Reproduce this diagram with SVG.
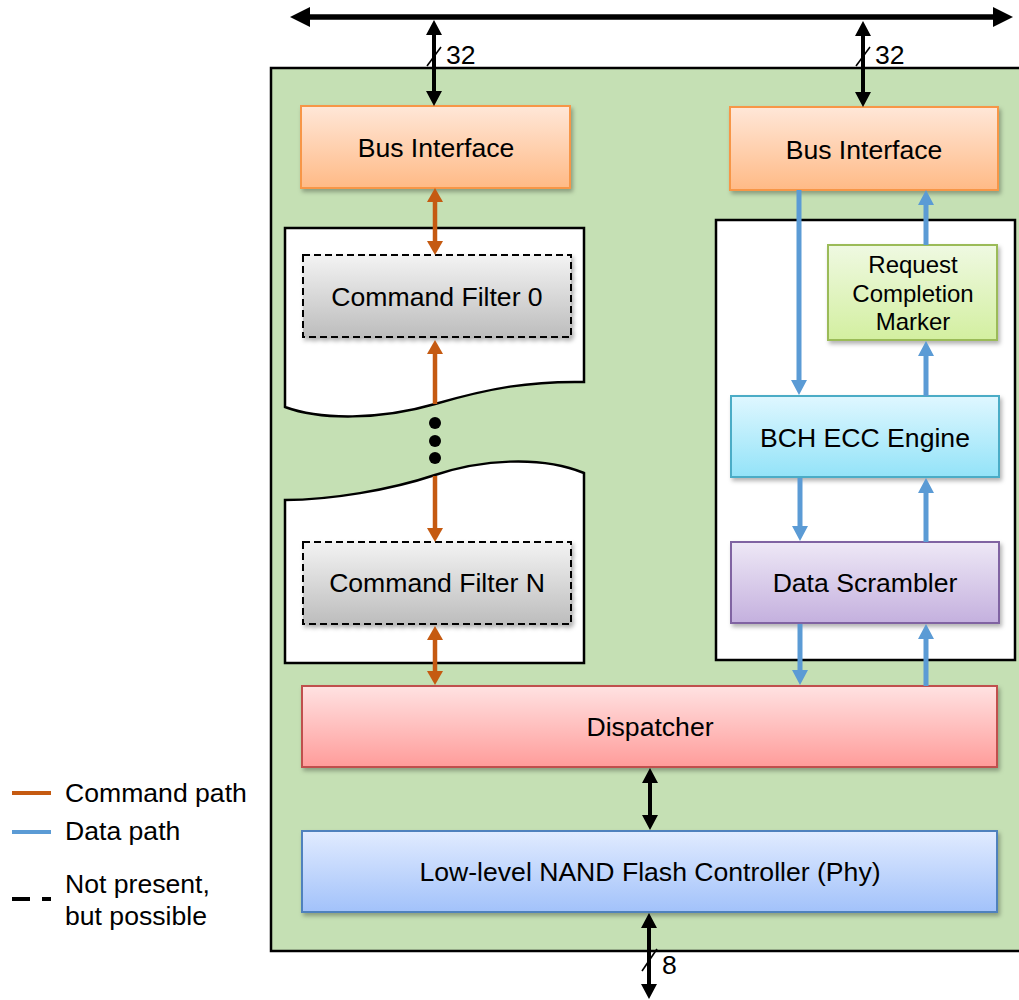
<svg xmlns="http://www.w3.org/2000/svg" width="1019" height="1000" viewBox="0 0 1019 1000">
  <defs>
    <style>
      text { font-family: "Liberation Sans", Arial, sans-serif; font-size: 26.6px; fill: #000; }
      .mid { text-anchor: middle; }
      .small { font-size: 24px; }
      .box { stroke-width: 2; filter: url(#shadow); }
      .dash { stroke: #000; stroke-width: 2; stroke-dasharray: 7 4; filter: url(#shadow); }
      .frame { fill: #fff; stroke: #000; stroke-width: 2.5; }
      .cmd { stroke: #C55A11; stroke-width: 4.5; fill: none; }
      .data { stroke: #5B9BD5; stroke-width: 5; fill: none; }
      .blk { stroke: #000; stroke-width: 4; fill: none; }
      .bus { stroke: #000; stroke-width: 5.5; fill: none; }
      .tick { stroke: #000; stroke-width: 1.6; }
    </style>
    <filter id="shadow" x="-5%" y="-10%" width="115%" height="130%">
      <feDropShadow dx="2" dy="3" stdDeviation="2" flood-color="#000" flood-opacity="0.3"/>
    </filter>
    <linearGradient id="gOrange" x1="0" y1="0" x2="0" y2="1">
      <stop offset="0" stop-color="#FFE7D8"/>
      <stop offset="1" stop-color="#FFBA86"/>
    </linearGradient>
    <linearGradient id="gGray" x1="0" y1="0" x2="0" y2="1">
      <stop offset="0" stop-color="#F3F3F3"/>
      <stop offset="1" stop-color="#BDBDBD"/>
    </linearGradient>
    <linearGradient id="gLime" x1="0" y1="0" x2="0" y2="1">
      <stop offset="0" stop-color="#EFF9E2"/>
      <stop offset="1" stop-color="#D3EFA0"/>
    </linearGradient>
    <linearGradient id="gCyan" x1="0" y1="0" x2="0" y2="1">
      <stop offset="0" stop-color="#DFF7FF"/>
      <stop offset="1" stop-color="#93E3F8"/>
    </linearGradient>
    <linearGradient id="gPurple" x1="0" y1="0" x2="0" y2="1">
      <stop offset="0" stop-color="#EEE8F6"/>
      <stop offset="1" stop-color="#C4B0DE"/>
    </linearGradient>
    <linearGradient id="gRed" x1="0" y1="0" x2="0" y2="1">
      <stop offset="0" stop-color="#FFE2E2"/>
      <stop offset="1" stop-color="#FF9C9A"/>
    </linearGradient>
    <linearGradient id="gBlue" x1="0" y1="0" x2="0" y2="1">
      <stop offset="0" stop-color="#E1EBFF"/>
      <stop offset="1" stop-color="#A2C2FA"/>
    </linearGradient>
    <marker id="aBus" markerUnits="userSpaceOnUse" markerWidth="20" markerHeight="20" refX="3" refY="10" orient="auto-start-reverse" overflow="visible">
      <path d="M0,0 L20,10 L0,20 Z" fill="#000"/>
    </marker>
    <marker id="aBlk" markerUnits="userSpaceOnUse" markerWidth="15" markerHeight="16" refX="3" refY="8" orient="auto-start-reverse" overflow="visible">
      <path d="M0,0 L15,8 L0,16 Z" fill="#000"/>
    </marker>
    <marker id="aCmd" markerUnits="userSpaceOnUse" markerWidth="14" markerHeight="16" refX="3" refY="8" orient="auto-start-reverse" overflow="visible">
      <path d="M0,0 L14,8 L0,16 Z" fill="#C55A11"/>
    </marker>
    <marker id="aData" markerUnits="userSpaceOnUse" markerWidth="15" markerHeight="16" refX="3" refY="8" orient="auto-start-reverse" overflow="visible">
      <path d="M0,0 L15,8 L0,16 Z" fill="#5B9BD5"/>
    </marker>
  </defs>

  <rect width="1019" height="1000" fill="#fff"/>

  <!-- controller enclosure -->
  <g id="controller">
    <rect x="271" y="68" width="760" height="883" fill="#C5E0B4" stroke="#000" stroke-width="2.5"/>
  </g>

  <!-- command filter chain (torn page pieces) -->
  <g id="filter-stack-top">
    <path class="frame" d="M285,228 H584 V382 C530,381 490,388 435,404 C380,420 320,420 285,407 Z"/>
  </g>
  <g id="filter-stack-bottom">
    <path class="frame" d="M285,500 C330,500 390,490 435,475 C480,460 540,455 584,473 V663 H285 Z"/>
  </g>
  <g id="ellipsis">
    <circle cx="435" cy="423" r="6"/>
    <circle cx="435" cy="441" r="6"/>
    <circle cx="435" cy="458" r="6"/>
  </g>

  <!-- data pipeline frame -->
  <g id="data-pipeline">
    <rect x="716" y="220" width="299" height="440" fill="#fff" stroke="#000" stroke-width="2.5"/>
  </g>

  <g id="bus-if-left">
    <rect class="box" x="301" y="106" width="269" height="82" fill="url(#gOrange)" stroke="#F79646"/>
    <text class="mid" x="436" y="157">Bus Interface</text>
  </g>
  <g id="bus-if-right">
    <rect class="box" x="730" y="107" width="268" height="83" fill="url(#gOrange)" stroke="#F79646"/>
    <text class="mid" x="864" y="159">Bus Interface</text>
  </g>

  <g id="cmd-filter-0">
    <rect class="dash" x="303" y="255" width="268" height="82" fill="url(#gGray)"/>
    <text class="mid" x="437" y="306">Command Filter 0</text>
  </g>
  <g id="cmd-filter-n">
    <rect class="dash" x="303" y="542" width="268" height="82" fill="url(#gGray)"/>
    <text class="mid" x="437" y="592">Command Filter N</text>
  </g>

  <g id="completion-marker">
    <rect class="box" x="828" y="245" width="169" height="95" fill="url(#gLime)" stroke="#9BBB59"/>
    <text class="mid small" x="913" y="273">Request</text>
    <text class="mid small" x="913" y="302">Completion</text>
    <text class="mid small" x="913" y="330">Marker</text>
  </g>
  <g id="bch-ecc">
    <rect class="box" x="731" y="396" width="268" height="81" fill="url(#gCyan)" stroke="#4BACC6"/>
    <text class="mid" x="865" y="447">BCH ECC Engine</text>
  </g>
  <g id="scrambler">
    <rect class="box" x="731" y="542" width="268" height="81" fill="url(#gPurple)" stroke="#8064A2"/>
    <text class="mid" x="865" y="592">Data Scrambler</text>
  </g>

  <g id="dispatcher">
    <rect class="box" x="302" y="686" width="695" height="81" fill="url(#gRed)" stroke="#C0504D"/>
    <text class="mid" x="650" y="736">Dispatcher</text>
  </g>
  <g id="nand-phy">
    <rect class="box" x="302" y="831" width="695" height="81" fill="url(#gBlue)" stroke="#4F81BD"/>
    <text class="mid" x="650" y="881">Low-level NAND Flash Controller (Phy)</text>
  </g>

  <g id="connectors">
    <!-- system bus -->
    <line class="bus" x1="307" y1="17" x2="996" y2="17" marker-start="url(#aBus)" marker-end="url(#aBus)"/>
    <line class="blk" x1="434" y1="32" x2="434" y2="94" marker-start="url(#aBlk)" marker-end="url(#aBlk)"/>
    <line class="blk" x1="863" y1="33" x2="863" y2="95" marker-start="url(#aBlk)" marker-end="url(#aBlk)"/>
    <line class="tick" x1="427" y1="66" x2="441" y2="47"/>
    <line class="tick" x1="856" y1="66" x2="870" y2="47"/>
    <text x="446" y="64">32</text>
    <text x="875" y="64">32</text>

    <!-- command path -->
    <line class="cmd" x1="435" y1="199" x2="435" y2="244" marker-start="url(#aCmd)" marker-end="url(#aCmd)"/>
    <line class="cmd" x1="435" y1="404" x2="435" y2="351" marker-end="url(#aCmd)"/>
    <line class="cmd" x1="435" y1="476" x2="435" y2="531" marker-end="url(#aCmd)"/>
    <line class="cmd" x1="435" y1="637" x2="435" y2="674" marker-start="url(#aCmd)" marker-end="url(#aCmd)"/>

    <!-- data path -->
    <line class="data" x1="799" y1="190" x2="799" y2="383" marker-end="url(#aData)"/>
    <line class="data" x1="926" y1="245" x2="926" y2="202" marker-end="url(#aData)"/>
    <line class="data" x1="926" y1="396" x2="926" y2="353" marker-end="url(#aData)"/>
    <line class="data" x1="800" y1="478" x2="800" y2="529" marker-end="url(#aData)"/>
    <line class="data" x1="926" y1="542" x2="926" y2="490" marker-end="url(#aData)"/>
    <line class="data" x1="800" y1="624" x2="800" y2="673" marker-end="url(#aData)"/>
    <line class="data" x1="926" y1="686" x2="926" y2="636" marker-end="url(#aData)"/>

    <!-- dispatcher to phy, phy to flash -->
    <line class="blk" x1="650" y1="780" x2="650" y2="818" marker-start="url(#aBlk)" marker-end="url(#aBlk)"/>
    <line class="blk" x1="649" y1="925" x2="649" y2="987" marker-start="url(#aBlk)" marker-end="url(#aBlk)"/>
    <line class="tick" x1="642" y1="971" x2="657" y2="949"/>
    <text x="662" y="974">8</text>
  </g>

  <!-- legend -->
  <g id="legend">
    <line x1="12" y1="793" x2="51" y2="793" stroke="#C55A11" stroke-width="4"/>
    <text x="65" y="802">Command path</text>
    <line x1="12" y1="832" x2="51" y2="832" stroke="#5B9BD5" stroke-width="4"/>
    <text x="65" y="840">Data path</text>
    <line x1="12" y1="899" x2="30" y2="899" stroke="#000" stroke-width="4"/>
    <line x1="42" y1="899" x2="51" y2="899" stroke="#000" stroke-width="4"/>
    <text x="65" y="893">Not present,</text>
    <text x="65" y="925">but possible</text>
  </g>
</svg>
